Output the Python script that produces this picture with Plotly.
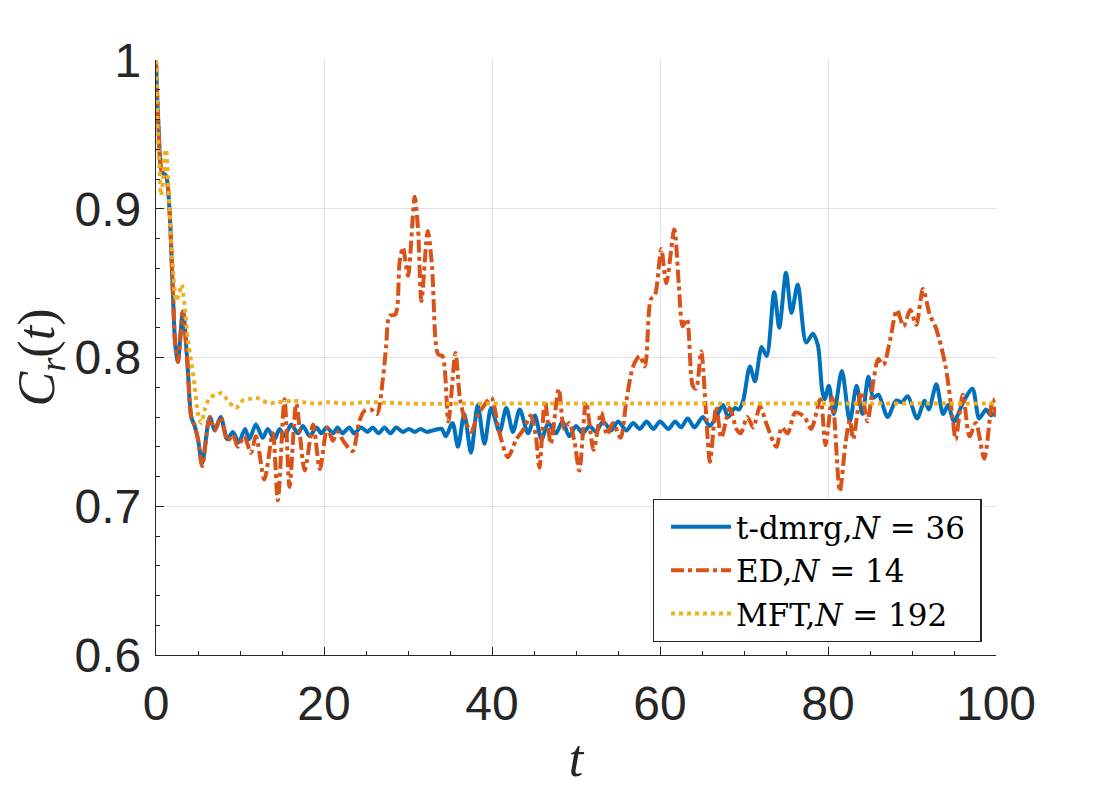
import plotly.graph_objects as go

# ---------------- data ----------------
dmrg_t = [0, 0.3, 0.7, 1.2, 1.6, 2.0, 2.3, 2.6, 3.2, 3.7, 4.2, 4.6, 5.0, 5.5, 6.4, 7.0, 7.7,
          8.5, 9.15, 9.86, 10.6, 11.1, 11.9, 12.7, 13.3, 14.1, 14.7, 15.3, 16.1, 16.9, 17.5,
          18.3, 19.1, 19.7, 20.3, 21.1, 21.6, 22.2, 23.0, 23.6, 24.4, 25.2, 25.8, 26.5, 27.2,
          27.9, 28.6, 29.4, 30.1, 30.8, 31.5, 32.2, 33.0, 34.0, 34.5, 35.3, 35.95, 36.7, 37.5,
          38.3, 39.1, 39.9, 40.9, 41.7, 42.5, 43.3, 44.3, 45.1, 45.9, 46.7, 47.6, 48.4, 49.2,
          50.0, 50.8, 51.6, 52.4, 53.2, 54.2, 55.0, 56.0, 56.8, 57.6, 58.4, 59.2, 60.0, 61.0,
          61.8, 62.5, 63.3, 64.1, 65.1, 65.9, 66.7, 67.5, 68.1, 68.9, 69.4, 69.9, 70.7, 71.3,
          72.1, 72.7, 73.6, 74.2, 75.0, 75.65, 76.4, 77.4, 78.2, 78.8, 79.3, 79.6, 80.1, 80.7,
          81.65, 82.6, 83.4, 84.1, 84.8, 85.4, 86.0, 87.1, 88.1, 88.8, 89.5, 90.6, 91.5, 92.0,
          92.9, 93.7, 94.3, 95.0, 96.1, 97.2, 98.0, 98.8, 99.4, 100]
dmrg_c = [1.0, 0.955, 0.925, 0.922, 0.900, 0.845, 0.808, 0.797, 0.831, 0.800, 0.760, 0.754,
          0.745, 0.729, 0.760, 0.751, 0.760,
          0.745, 0.750, 0.743, 0.752, 0.745, 0.755, 0.746, 0.752, 0.745, 0.752, 0.747, 0.755,
          0.749, 0.754, 0.747, 0.753, 0.749, 0.753, 0.749, 0.753, 0.749, 0.753, 0.749, 0.753,
          0.750, 0.753, 0.749, 0.753, 0.749, 0.753, 0.750, 0.752, 0.750, 0.752, 0.750, 0.751,
          0.752, 0.747, 0.756, 0.740, 0.762, 0.736, 0.768, 0.742, 0.766, 0.750, 0.766, 0.750,
          0.765, 0.749, 0.761, 0.745, 0.756, 0.749, 0.757, 0.747, 0.754, 0.749, 0.754, 0.750,
          0.757, 0.751, 0.757, 0.751, 0.756, 0.752, 0.757, 0.752, 0.757, 0.752, 0.757, 0.753,
          0.759, 0.753, 0.760, 0.754, 0.760, 0.768, 0.760, 0.766, 0.765, 0.771, 0.794, 0.784,
          0.807, 0.801, 0.844, 0.820, 0.857, 0.830, 0.849, 0.810, 0.816, 0.808, 0.778, 0.772,
          0.781, 0.762, 0.791, 0.757, 0.781, 0.762, 0.787, 0.773, 0.775, 0.760, 0.771, 0.770,
          0.774, 0.759, 0.771, 0.765, 0.782, 0.762, 0.768, 0.757, 0.770, 0.779, 0.759, 0.765,
          0.761, 0.764]

ed_t = [0, 0.3, 0.7, 1.2, 1.6, 2.0, 2.3, 2.6, 3.2, 3.7, 4.2, 4.6, 5.0, 5.5, 6.4, 7.0, 7.7,
        8.5, 9.15, 9.75, 10.5, 11.3, 11.9, 12.9, 13.9, 14.5, 15.3, 15.9, 16.7, 17.7, 18.7,
        19.5, 20.4, 21.05, 21.6, 22.4, 23.4, 24.2, 24.8, 25.6, 26.3, 27.0, 27.4, 27.8, 28.5,
        29.0, 29.4, 30.0, 30.8, 31.2, 31.6, 32.35, 32.85, 33.3, 33.6, 34.1, 34.8, 35.65, 36.2,
        36.8, 37.5, 38.3, 39.1, 39.9, 40.9, 41.9, 42.9, 43.8, 44.6, 45.2, 45.65, 46.3, 47.0,
        47.95, 48.6, 49.2, 49.8, 50.4, 51.2, 52.1, 53.0, 53.7, 54.4, 55.3, 56.0, 56.8, 57.6,
        58.2, 58.9, 59.4, 60.15, 60.75, 61.7, 62.25, 62.7, 63.2, 63.9, 64.3, 64.9, 65.5, 65.95,
        66.7, 67.3, 68.3, 69.1, 69.6, 70.4, 71.1, 71.9, 72.7, 73.85, 74.5, 75.2, 76.1, 77.2,
        78.0, 79.1, 79.7, 80.5, 81.4, 82.1, 82.6, 83.0, 83.95, 84.7, 85.4, 86.0, 86.6, 87.4,
        88.2, 89.0, 89.8, 90.5, 91.3, 92.1, 92.9, 94.0, 94.8, 95.2, 96.05, 96.85, 97.6, 98.6,
        99.6, 100]
ed_c = [1.0, 0.955, 0.925, 0.922, 0.900, 0.845, 0.808, 0.797, 0.831, 0.800, 0.760, 0.754,
        0.745, 0.727, 0.760, 0.751, 0.760,
        0.744, 0.748, 0.740, 0.747, 0.736, 0.747, 0.718, 0.749, 0.704, 0.772, 0.713, 0.769,
        0.724, 0.755, 0.725, 0.753, 0.744, 0.750, 0.743, 0.737, 0.757, 0.764, 0.765, 0.762,
        0.785, 0.808, 0.828, 0.829, 0.864, 0.874, 0.855, 0.908, 0.886, 0.838, 0.885, 0.862,
        0.810, 0.802, 0.801, 0.757, 0.803, 0.772, 0.758, 0.750, 0.761, 0.768, 0.773, 0.749,
        0.733, 0.745, 0.752, 0.761, 0.748, 0.726, 0.771, 0.742, 0.779, 0.752, 0.756, 0.744,
        0.724, 0.770, 0.738, 0.763, 0.748, 0.756, 0.746, 0.771, 0.794, 0.801, 0.794, 0.839,
        0.842, 0.873, 0.850, 0.886, 0.848, 0.821, 0.826, 0.781, 0.779, 0.804, 0.761, 0.730,
        0.767, 0.746, 0.766, 0.752, 0.749, 0.760, 0.753, 0.767, 0.755, 0.740, 0.753, 0.749,
        0.763, 0.760, 0.752, 0.772, 0.741, 0.773, 0.710, 0.743, 0.758, 0.745, 0.777, 0.757,
        0.784, 0.799, 0.795, 0.812, 0.832, 0.821, 0.832, 0.822, 0.846, 0.829, 0.819, 0.794,
        0.761, 0.745, 0.775, 0.747, 0.756, 0.732, 0.772, 0.760]

mft_t = [0, 0.1, 0.22, 0.35, 0.6, 0.85, 1.0, 1.2, 1.45, 1.65, 2.0, 2.4, 2.75, 3.05, 3.4, 3.8,
         4.2, 4.6, 5.0, 5.4, 5.8, 6.4, 7.2, 7.8, 8.7, 9.5, 10.3, 11.1, 11.9, 12.7, 13.5, 14.3,
         15.1, 16.3, 17.5, 19.1, 20.5, 22.6, 25.4, 30, 35, 40, 50, 60, 70, 80, 90, 100]
mft_c = [1.0, 0.975, 0.951, 0.935, 0.909, 0.920, 0.935, 0.940, 0.918, 0.895, 0.862, 0.838,
         0.843, 0.849, 0.835, 0.812, 0.797, 0.781, 0.762, 0.756, 0.765, 0.773, 0.775, 0.776,
         0.770, 0.766, 0.771, 0.772, 0.773, 0.771, 0.769, 0.770, 0.770, 0.771, 0.770, 0.769,
         0.770, 0.769, 0.770, 0.769, 0.769, 0.769, 0.769, 0.769, 0.769, 0.769, 0.769, 0.769]

series_names = ["t-dmrg,<i>N</i> = 36\u00a0", "ED,<i>N</i> = 14", "MFT,<i>N</i> = 192"]
x_ticks = [0, 20, 40, 60, 80, 100]
x_ticktext = ["0", "20", "40", "60", "80", "100"]
y_ticks = [0.6, 0.7, 0.8, 0.9, 1.0]
y_ticktext = ["0.6", "0.7", "0.8", "0.9", "1"]

# ---------------- figure ----------------
AX = "#262626"
fig = go.Figure()
fig.add_trace(go.Scatter(x=dmrg_t, y=dmrg_c, mode="lines", name=series_names[0],
                         line=dict(color="#0072BD", width=4, shape="spline", smoothing=0.8)))
fig.add_trace(go.Scatter(x=ed_t, y=ed_c, mode="lines", name=series_names[1],
                         line=dict(color="#D95319", width=4, dash="13px,4px,4px,4px",
                                   shape="spline", smoothing=0.8)))
fig.add_trace(go.Scatter(x=mft_t, y=mft_c, mode="lines", name=series_names[2],
                         line=dict(color="#EDB120", width=4, dash="4px,4px",
                                   shape="spline", smoothing=0.8)))

axis_common = dict(
    showline=True, linecolor=AX, linewidth=1.3, mirror=False,
    showgrid=True, gridcolor="#e2e2e2", gridwidth=1, zeroline=False,
    ticks="inside", ticklen=8, tickwidth=1, tickcolor=AX,
    tickfont=dict(family="Liberation Sans", size=48, color=AX),
)
fig.update_xaxes(range=[0, 100], tickvals=x_ticks, ticktext=x_ticktext,
                 minor=dict(dtick=5, ticks="inside", ticklen=4, tickcolor=AX, showgrid=False),
                 ticklabelstandoff=6,
                 title=dict(text="<i>t</i>", font=dict(family="Liberation Serif", size=52, color=AX),
                            standoff=10),
                 **axis_common)
fig.update_yaxes(range=[0.6, 1.0], tickvals=y_ticks, ticktext=y_ticktext,
                 minor=dict(dtick=0.02, ticks="inside", ticklen=4, tickcolor=AX, showgrid=False),
                 ticklabelstandoff=4,
                 title=dict(text="<i>C</i><sub><i>r</i></sub>(<i>t</i>)",
                            font=dict(family="Liberation Serif", size=52, color=AX), standoff=12),
                 **axis_common)

fig.update_layout(
    width=1100, height=800,
    margin=dict(l=148, r=112, t=52, b=153),
    paper_bgcolor="white", plot_bgcolor="white",
    showlegend=True,
    legend=dict(x=0.983, y=0.022, xanchor="right", yanchor="bottom",
                bgcolor="white", bordercolor=AX, borderwidth=1.3,
                font=dict(family="DejaVu Serif", size=31, color="black"),
                itemwidth=60, tracegroupgap=0, indentation=12),
)

fig.write_html("out.html")
